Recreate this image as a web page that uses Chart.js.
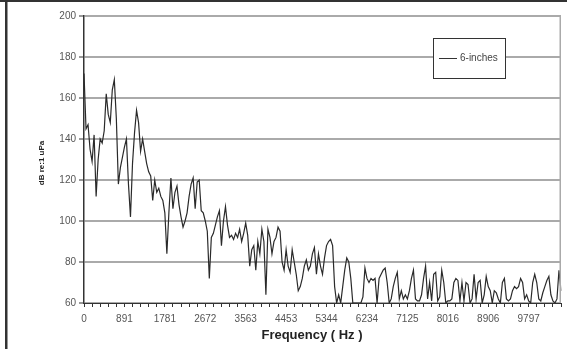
<!DOCTYPE html>
<html>
<head>
<meta charset="utf-8">
<script src="https://cdn.jsdelivr.net/npm/chart.js@4/dist/chart.umd.min.js"></script>
<style>
  body { margin: 0; background: #fff; }
  canvas { display: block; }
</style>
</head>
<body>
<canvas id="spectrum" width="567" height="349"></canvas>
<script>
// spectrum levels (dB), one value per frequency bin
const levels = [
  172, 145, 147, 135, 129, 142, 112, 130, 140, 138,
  144, 162, 152, 148, 164, 169, 150, 118, 126, 131,
  136, 140, 118, 102, 128, 143, 154, 148, 134, 140,
  134, 128, 124, 122, 110, 120, 114, 116, 112, 110,
  104, 84, 104, 121, 106, 114, 117, 108, 102, 97,
  100, 104, 112, 118, 121, 106, 119, 120, 105, 104,
  100, 95, 72, 92, 94, 98, 102, 105, 88, 100,
  107, 98, 92, 93, 91, 94, 92, 96, 90, 94,
  99, 93, 78, 86, 88, 76, 90, 84, 96, 90,
  64, 96, 92, 84, 90, 92, 97, 95, 80, 76,
  86, 78, 75, 86, 80, 74, 66, 68, 72, 78,
  81, 76, 78, 84, 87, 74, 84, 78, 74, 82,
  88, 90, 91, 88, 68, 60, 64, 60, 68, 76,
  82, 80, 72, 60, 60, 60, 60, 60, 63, 77,
  72, 70, 72, 71, 72, 60, 72, 74, 76, 77,
  70, 60, 62, 68, 72, 75, 62, 66, 62, 64,
  62, 66, 72, 76, 62, 61, 61, 64, 72, 78,
  62, 70, 61, 74, 75, 61, 63, 76, 70, 60,
  61, 61, 62, 70, 72, 71, 61, 70, 61, 70,
  69, 60, 62, 74, 62, 70, 71, 60, 64, 73,
  68, 66, 60, 66, 65, 62, 60, 70, 72, 62,
  61, 62, 66, 68, 67, 68, 72, 70, 62, 64,
  61, 60, 70, 74, 70, 62, 61, 65, 68, 71,
  73, 64, 61, 60, 62, 76, 66,
];

// labelled frequencies on the x axis, one every 20 bins
const tickLabels = ["0", "891", "1781", "2672", "3563", "4453", "5344", "6234", "7125", "8016", "8906", "9797"];
const binHz = 890.625 / 20;
const freqs = levels.map((_, i) => Math.round(i * binHz));

const seriesName = "6-inches";
const yTitle = "dB re:1 uPa";
const xTitle = "Frequency ( Hz )";

const FONT = "'Liberation Sans', Arial, sans-serif";

// ! frame, axis titles, boxed legend and the plot border
const decorations = {
  id: "decorations",
  beforeDraw(chart) {
    const ctx = chart.ctx;
    ctx.save();
    ctx.fillStyle = "#fff";
    ctx.fillRect(0, 0, chart.width, chart.height);
    ctx.restore();
  },
  afterDraw(chart) {
    const ctx = chart.ctx;
    const area = chart.chartArea;
    ctx.save();

    // outer frame lines
    ctx.fillStyle = "#333";
    ctx.fillRect(0, 0, chart.width, 2);
    ctx.fillRect(5, 0, 2.5, chart.height);

    // right edge of plot area
    ctx.strokeStyle = "#aaa";
    ctx.lineWidth = 1.5;
    ctx.beginPath();
    ctx.moveTo(area.right - 0.75, area.top);
    ctx.lineTo(area.right - 0.75, area.bottom);
    ctx.stroke();

    // axis titles
    ctx.fillStyle = "#222";
    ctx.textAlign = "center";
    ctx.textBaseline = "middle";
    ctx.font = "bold 13px " + FONT;
    ctx.fillText(xTitle, 312, 335);

    ctx.translate(42, 163);
    ctx.rotate(-Math.PI / 2);
    ctx.font = "bold 8px " + FONT;
    ctx.fillText(yTitle, 0, 0);
    ctx.restore();

    // legend box
    ctx.save();
    ctx.fillStyle = "#fff";
    ctx.fillRect(433, 38, 72, 40);
    ctx.strokeStyle = "#333";
    ctx.lineWidth = 1;
    ctx.strokeRect(433.5, 38.5, 72, 40);
    ctx.beginPath();
    ctx.moveTo(439, 58.5);
    ctx.lineTo(457, 58.5);
    ctx.stroke();
    ctx.fillStyle = "#444";
    ctx.font = "10px " + FONT;
    ctx.textBaseline = "middle";
    ctx.fillText(chart.data.datasets[0].label, 460, 58.5);
    ctx.restore();
  },
};

new Chart(document.getElementById("spectrum"), {
  type: "line",
  data: {
    labels: freqs,
    datasets: [
      {
        label: seriesName,
        data: levels,
        borderColor: "#2a2a2a",
        borderWidth: 1.2,
        pointRadius: 0,
        tension: 0,
        fill: false,
      },
    ],
  },
  options: {
    responsive: false,
    animation: false,
    devicePixelRatio: 1,
    layout: { padding: { top: 16, right: 2, left: 0, bottom: 0 } },
    plugins: {
      legend: { display: false },
      tooltip: { enabled: false },
    },
    scales: {
      x: {
        type: "category",
        offset: false,
        afterFit(scale) {
          scale.height = 46;
        },
        grid: {
          drawOnChartArea: false,
          tickLength: 4,
          tickWidth: 1,
          tickColor: (c) => (c.index % 4 === 0 ? "#333" : "rgba(0,0,0,0)"),
        },
        border: { color: "#333", width: 1 },
        ticks: {
          autoSkip: false,
          maxRotation: 0,
          padding: 6,
          color: "#555",
          font: { family: FONT, size: 10 },
          callback: (val, i) => (i % 20 === 0 ? tickLabels[i / 20] || "" : ""),
        },
      },
      y: {
        min: 60,
        max: 200,
        afterFit(scale) {
          scale.width = 84;
        },
        grid: {
          color: "#aaa",
          lineWidth: 2,
          tickColor: "#333",
          tickLength: 5,
          tickWidth: 1,
        },
        border: { color: "#333", width: 1.5 },
        ticks: {
          stepSize: 20,
          padding: 3,
          color: "#555",
          font: { family: FONT, size: 10 },
        },
      },
    },
  },
  plugins: [decorations],
});
</script>
</body>
</html>
